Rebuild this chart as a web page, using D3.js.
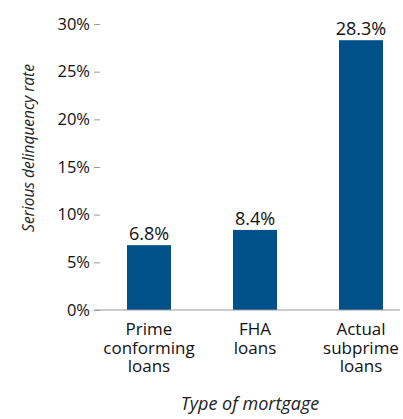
<!DOCTYPE html>
<html><head><meta charset="utf-8">
<script src="https://cdn.jsdelivr.net/npm/d3@7"></script>
<style>body{margin:0;background:#fff}</style>
</head><body>
<script>
const categories = [["Prime","conforming","loans"],["FHA","loans"],["Actual","subprime","loans"]];
const values = [6.8, 8.4, 28.3];
const yTicks = [0,5,10,15,20,25,30];
const yTitle = "Serious delinquency rate";
const xTitle = "Type of mortgage";

const W=403,H=419;
const svg=d3.select("body").append("svg").attr("width",W).attr("height",H);
const font="'Open Sans', sans-serif";
const y=d3.scaleLinear().domain([0,30]).range([310,24]);
const x=d3.scaleBand().domain(d3.range(values.length)).range([95.2,414.8]).paddingInner(0.585).paddingOuter(0.3);

// y axis
const ya=svg.append("g").attr("transform","translate(100,0)")
  .call(d3.axisLeft(y).tickValues(yTicks).tickSize(6).tickPadding(4).tickFormat(d=>d+"%"));
ya.select(".domain").remove();
ya.selectAll(".tick line").attr("stroke","#999");
ya.selectAll("text").attr("font-family",font).attr("font-size",16.5).attr("fill","#111");

// bars
svg.selectAll("rect.bar").data(values).join("rect").attr("class","bar")
  .attr("x",(d,i)=>x(i)).attr("width",x.bandwidth())
  .attr("y",d=>y(d)).attr("height",d=>y(0)-y(d)).attr("fill","#00518a");

// baseline
svg.append("line").attr("x1",94).attr("x2",400).attr("y1",y(0)).attr("y2",y(0)).attr("stroke","#999");

// value labels
svg.selectAll("text.val").data(values).join("text").attr("class","val")
  .attr("x",(d,i)=>x(i)+x.bandwidth()/2).attr("y",d=>y(d)-5)
  .attr("text-anchor","middle").attr("font-family",font).attr("font-size",18).attr("fill","#111")
  .text(d=>d.toFixed(1)+"%");

// category labels
categories.forEach((lines,i)=>{
  const t=svg.append("text").attr("text-anchor","middle").attr("font-family",font).attr("font-size",17).attr("fill","#111");
  lines.forEach((l,j)=>t.append("tspan").attr("x",x(i)+x.bandwidth()/2).attr("y",335+j*18.5).text(l));
});

// titles
svg.append("text").attr("x",250).attr("y",410).attr("text-anchor","middle")
  .attr("font-family",font).attr("font-style","italic").attr("font-size",18).attr("fill","#222").text(xTitle);
svg.append("text").attr("transform","translate(34,148) rotate(-90)").attr("text-anchor","middle")
  .attr("font-family",font).attr("font-style","italic").attr("font-size",15.5).attr("fill","#222").text(yTitle);
</script>
</body></html>
